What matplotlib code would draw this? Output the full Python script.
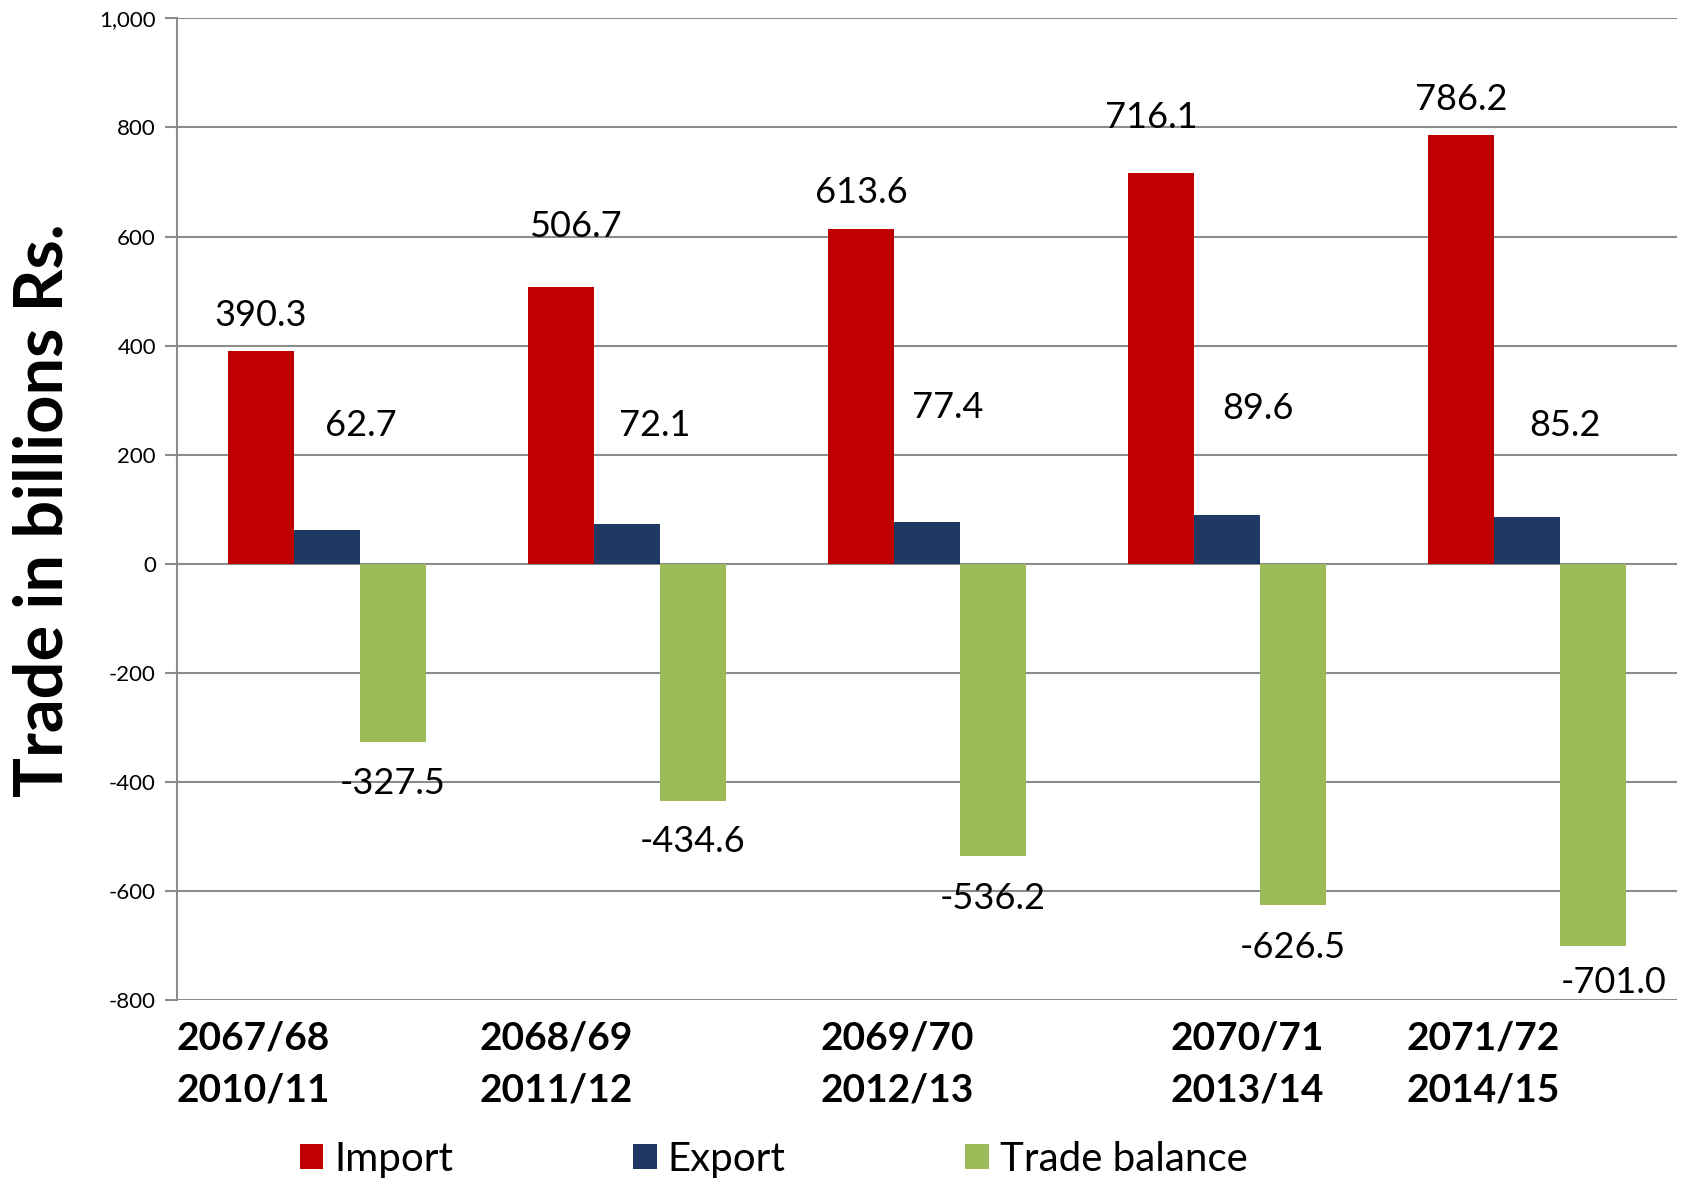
import matplotlib
matplotlib.use("Agg")
import matplotlib.pyplot as plt
from matplotlib.patches import Patch
import numpy as np

plt.rcParams['font.family'] = ['Lato', 'DejaVu Sans']

# ---- data ----
nepali_years = ["2067/68", "2068/69", "2069/70", "2070/71", "2071/72"]
ad_years = ["2010/11", "2011/12", "2012/13", "2013/14", "2014/15"]
imports = [390.3, 506.7, 613.6, 716.1, 786.2]
exports = [62.7, 72.1, 77.4, 89.6, 85.2]
balance = [-327.5, -434.6, -536.2, -626.5, -701.0]
series_names = ["Import", "Export", "Trade balance"]
yticks = [-800, -600, -400, -200, 0, 200, 400, 600, 800, 1000]

# ---- layout / style ----
colors = ["#C00000", "#1F3864", "#9BBB59"]
bar_w = 0.22
# label placement (layout only): (dx in category units, y in data units)
imp_lab_dx = [0.0, 0.049, 0.0, -0.033, 0.0]
imp_lab_y = [455, 618, 680, 819, 851]
exp_lab_dx = [0.114, 0.092, 0.07, 0.103, 0.128]
exp_lab_y = [254, 254, 286, 284, 254]
bal_lab_dx = [0.0, 0.0, 0.0, 0.0, 0.07]
bal_lab_y = [-402, -510, -614, -703, -767]
cat_label_x = [-0.5, 0.508, 1.646, 2.813, 3.597]

fig = plt.figure(figsize=(17, 11.78), dpi=100)
ax = fig.add_axes([0.104, 0.151, 0.8825, 0.8334])

x = np.arange(len(nepali_years))
ax.bar(x - bar_w, imports, bar_w, color=colors[0], zorder=3)
ax.bar(x, exports, bar_w, color=colors[1], zorder=3)
ax.bar(x + bar_w, balance, bar_w, color=colors[2], zorder=3)

ax.set_xlim(-0.5, len(nepali_years) - 0.5)
ax.set_ylim(-800, 1000)
ax.set_yticks(yticks)
ax.set_yticklabels([f"{v:,}" for v in yticks], fontsize=16)
ax.set_xticks([])
ax.yaxis.grid(True, color="#8c8c8c", linewidth=1.5, zorder=0)
ax.set_axisbelow(True)
for s in ["top", "right", "bottom"]:
    ax.spines[s].set_visible(False)
ax.spines["left"].set_color("#8c8c8c")
ax.spines["left"].set_linewidth(1.5)
ax.tick_params(axis="y", length=9, width=1.5, color="#8c8c8c", pad=6)

fs_val = 26
for i in range(len(x)):
    ax.text(x[i] - bar_w + imp_lab_dx[i], imp_lab_y[i], f"{imports[i]:.1f}", ha="center", va="center", fontsize=fs_val)
    ax.text(x[i] + exp_lab_dx[i], exp_lab_y[i], f"{exports[i]:.1f}", ha="center", va="center", fontsize=fs_val)
    ax.text(x[i] + bar_w + bal_lab_dx[i], bal_lab_y[i], f"{balance[i]:.1f}", ha="center", va="center", fontsize=fs_val, clip_on=False)

for i in range(len(x)):
    ax.text(cat_label_x[i], -917, f"{nepali_years[i]}\n{ad_years[i]}", ha="left", va="center",
            fontsize=28, fontweight="bold", linespacing=1.6, clip_on=False)

fig.text(0.0255, 0.567, "Trade in billions Rs.", rotation=90, ha="center", va="center",
         fontsize=48, fontweight="bold")

handles = [Patch(facecolor=c, edgecolor="none") for c in colors]
fig.legend(handles, series_names, loc="center", bbox_to_anchor=(0.455, 0.016), ncol=3,
           frameon=False, fontsize=29, handlelength=0.59, handleheight=0.59,
           handletextpad=0.27, columnspacing=4.46, borderpad=0)

fig.savefig("out.png", dpi=100)
